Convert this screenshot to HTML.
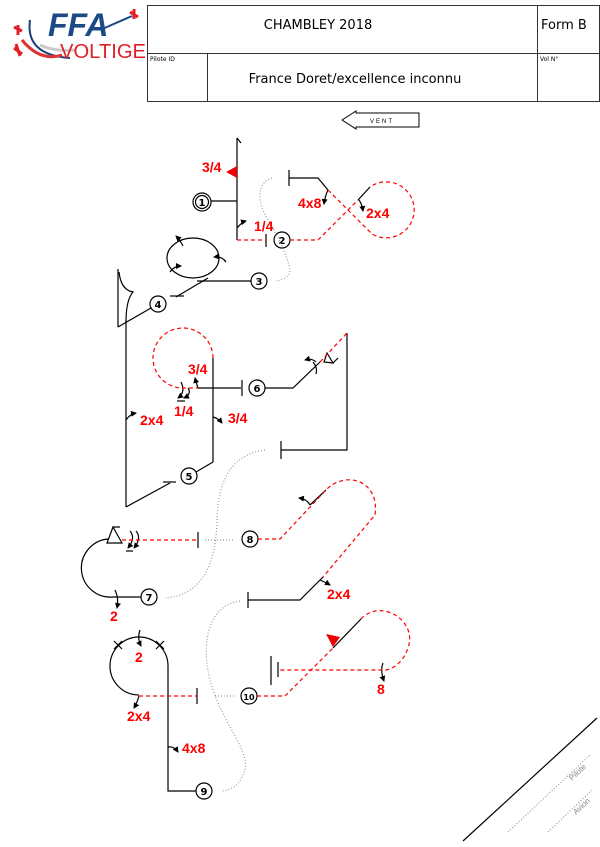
<!DOCTYPE html>
<html><head><meta charset="utf-8"><style>
html,body{margin:0;padding:0;background:#fff;}
svg{display:block;}
.r{fill:#f00;font:bold 14px "Liberation Sans",sans-serif;}
</style></head><body>
<svg width="600" height="847" viewBox="0 0 600 847" xmlns="http://www.w3.org/2000/svg" font-family="Liberation Sans, sans-serif">
<defs>
<marker id="ah" markerWidth="6" markerHeight="6" refX="5" refY="3" orient="auto" markerUnits="userSpaceOnUse"><path d="M0,0 L6,3 L0,6 z" fill="#000"/></marker>
</defs>
<!-- logo -->
<path d="M30,20 Q25,55 70,58" stroke="#1c3f7a" stroke-width="2" fill="none"/>
<path d="M22,40 Q40,62 62,55" stroke="#d33" stroke-width="3" fill="none"/>
<path d="M40,45 Q55,52 75,50" stroke="#ccc" stroke-width="3" fill="none"/>
<text x="48" y="36" font-size="32" font-weight="bold" font-style="italic" fill="#1c4a86">FFA</text>
<path d="M100,30 L132,16" stroke="#1c4a86" stroke-width="2"/>
<text x="60" y="58" font-size="20" fill="#e21f26" textLength="86" lengthAdjust="spacingAndGlyphs">VOLTIGE</text>
<path d="M130,12 l8,5 m-4,-8 l0,10" stroke="#e21f26" stroke-width="3"/>
<path d="M14,48 l8,6 m-6,-10 l4,12" stroke="#e21f26" stroke-width="3"/>
<path d="M14,27 l8,4 m-4,-6 l0,10" stroke="#e21f26" stroke-width="3"/>
<!-- header -->
<g stroke="#333" stroke-width="1" fill="none">
<rect x="147.5" y="5.5" width="452" height="96"/>
<line x1="147" y1="53.5" x2="600" y2="53.5"/>
<line x1="537.5" y1="5" x2="537.5" y2="101"/>
<line x1="207.5" y1="53" x2="207.5" y2="101"/>
</g>
<g font-family="DejaVu Sans, sans-serif">
<text x="318" y="29" font-size="13" text-anchor="middle">CHAMBLEY 2018</text>
<text x="541" y="29" font-size="13">Form B</text>
<text x="150" y="61" font-size="6">Pilote ID</text>
<text x="540" y="61" font-size="6">Vol N°</text>
<text x="355" y="83" font-size="13" text-anchor="middle">France Doret/excellence inconnu</text>
</g>
<!-- vent -->
<path d="M342,120 L356,111 L356,113 L419,113 L419,127 L356,127 L356,129 Z" fill="none" stroke="#000"/>
<text x="382" y="123" font-size="6" text-anchor="middle" letter-spacing="2">VENT</text>

<g fill="none" stroke="#000" stroke-width="1.2">
<!-- fig1 -->
<circle cx="202" cy="202" r="9"/><circle cx="202" cy="202" r="6.5"/>
<line x1="211" y1="201" x2="237" y2="201"/>
<line x1="237" y1="138" x2="237" y2="240"/>
<line x1="237" y1="138" x2="241" y2="143"/>
<path d="M237,228 Q242,222 246,221" marker-end="url(#ah)"/>
<line x1="266" y1="234" x2="266" y2="247"/>
<circle cx="282" cy="240" r="8"/>
<!-- fig2 -->
<path d="M289,170 V186 M289,178 H318 L328,190"/>
<path d="M370,187 L358,200"/>
<path d="M328,190 Q325,196 324,204" marker-end="url(#ah)"/>
<path d="M359,200 Q362,204 363,211" marker-end="url(#ah)"/>
<!-- fig3 -->
<circle cx="259" cy="281" r="8"/>
<line x1="197" y1="281" x2="251" y2="281"/>
<ellipse cx="193" cy="258" rx="26" ry="20"/>
<line x1="208" y1="278" x2="176" y2="297"/>
<line x1="170" y1="296" x2="184" y2="296"/>
<path d="M183,246 Q180,240 176,236" marker-end="url(#ah)"/>
<path d="M170,272 Q174,266 181,266" marker-end="url(#ah)"/>
<path d="M226,262 Q222,256 214,257" marker-end="url(#ah)"/>
<!-- fig4 -->
<circle cx="158" cy="304" r="8"/>
<line x1="151" y1="308" x2="118" y2="327"/>
<line x1="118" y1="269" x2="118" y2="327"/>
<path d="M119,272 Q121,290 133,292 Q126,300 126,322"/>
<!-- fig5 -->
<line x1="126" y1="320" x2="126" y2="507"/>
<line x1="126" y1="507" x2="170" y2="483"/>
<line x1="163" y1="482" x2="176" y2="482"/>
<circle cx="189" cy="476" r="8"/>
<line x1="196" y1="472" x2="213" y2="462"/>
<line x1="213" y1="462" x2="213" y2="358"/>
<path d="M126,420 Q130,414 136,413" marker-end="url(#ah)"/>
<path d="M213,417 Q218,418 222,423" marker-end="url(#ah)"/>
<line x1="198" y1="388" x2="241" y2="388"/>
<line x1="242" y1="380" x2="242" y2="396"/>
<path d="M198,388 Q196,382 195,378" marker-end="url(#ah)"/>
<path d="M181,382 Q186,392 178,398" marker-end="url(#ah)"/>
<path d="M188,388 Q192,394 184,398" marker-end="url(#ah)"/>
<line x1="177" y1="401" x2="185" y2="401"/>
<!-- fig6 -->
<circle cx="257" cy="388" r="8"/>
<path d="M265,388 H293 L320,362"/>
<path d="M327,353 L333,363 L324,362 Z M333,363 L338,358"/>
<path d="M313,362 Q318,368 316,374"/>
<path d="M316,362 Q312,358 305,360" marker-end="url(#ah)"/>
<path d="M347,333 V450 H281 M281,441 V459"/>
<!-- fig7 -->
<circle cx="149" cy="597" r="8"/>
<path d="M141,597 H113 A29,29 0 0 1 108,539"/>
<path d="M113,527 L107,543 L122,543 Z M113,527 H120"/>
<path d="M115,590 Q119,598 117,608" marker-end="url(#ah)"/>
<path d="M130,531 Q136,538 128,548" marker-end="url(#ah)"/>
<path d="M136,531 Q142,538 134,548" marker-end="url(#ah)"/>
<line x1="126" y1="551" x2="133" y2="551"/>
<line x1="198" y1="532" x2="198" y2="548"/>
<!-- fig8 -->
<circle cx="250" cy="539" r="8"/>
<line x1="310" y1="505" x2="326" y2="490"/>
<path d="M310,505 Q307,499 299,498" marker-end="url(#ah)"/>
<path d="M323,577 L300,600 H248 M248,592 V608"/>
<path d="M320,580 Q325,582 330,585" marker-end="url(#ah)"/>
<!-- fig9 -->
<circle cx="204" cy="791" r="8"/>
<path d="M196,791 H168 V666 A29,29 0 0 0 110,666 A29,29 0 0 0 139,695"/>
<path d="M114,641 l8,8 M122,641 l-8,8 M156,641 l8,8 M164,641 l-8,8"/>
<path d="M140,630 Q137,638 141,646" marker-end="url(#ah)"/>
<path d="M139,696 Q137,703 134,708" marker-end="url(#ah)"/>
<path d="M168,747 Q174,746 178,752" marker-end="url(#ah)"/>
<line x1="197" y1="688" x2="197" y2="704"/>
<!-- fig10 -->
<circle cx="249" cy="696" r="8"/>
<line x1="333" y1="648" x2="361" y2="619"/>
<path d="M383,663 Q380,670 384,681" marker-end="url(#ah)"/>
<line x1="278" y1="662" x2="278" y2="677"/>
<line x1="271" y1="656" x2="271" y2="685"/>
<!-- bottom right -->
<line x1="463" y1="841" x2="597" y2="718"/>
</g>
<!-- red filled triangles -->
<path d="M226,172 L237,166 L237,178 Z" fill="#e00"/>
<path d="M326,634 L340,637 L333,647 Z" fill="#e00"/>
<!-- circle numbers -->
<g font-size="10" font-weight="bold" text-anchor="middle" font-family="DejaVu Sans, sans-serif">
<text x="202" y="206">1</text><text x="282" y="244">2</text><text x="259" y="285">3</text>
<text x="158" y="308">4</text><text x="189" y="480">5</text><text x="257" y="392">6</text>
<text x="149" y="601">7</text><text x="250" y="543">8</text><text x="204" y="795">9</text>
<text x="249" y="700" font-size="8">10</text>
</g>
<!-- red dashed -->
<g fill="none" stroke="#f00" stroke-width="1.2" stroke-dasharray="4,3">
<path d="M237,240 H266 M290,240 H318 L358,200"/>
<path d="M328,190 L372,234 A28,28 0 1 0 370,187"/>
<path d="M213,358 A30,30 0 1 0 183,388 H198"/>
<path d="M320,362 L347,333"/>
<path d="M122,540 H198"/>
<path d="M258,539 H280 L326,490 C345,470 380,480 375,515 L323,577"/>
<path d="M139,696 H197"/>
<path d="M257,696 H285 L333,648"/>
<path d="M361,619 C380,598 418,620 408,648 C402,665 390,670 385,670 H278"/>
</g>
<!-- gray dotted -->
<g fill="none" stroke="#999" stroke-width="1.2" stroke-dasharray="1,2">
<path d="M272,178 C255,183 258,205 268,220 C280,240 288,258 290,270 C290,277 283,280 276,281"/>
<path d="M265,450 C228,455 218,485 217,520 C216,560 205,595 165,598"/>
<path d="M205,540 H234"/>
<path d="M240,601 C210,605 200,640 210,680 C220,720 250,750 245,770 C240,785 232,790 222,791"/>
<path d="M215,696 H234"/>
<path d="M508,832 L590,755 M548,832 L592,790"/>
</g>
<text transform="translate(572,781) rotate(-43)" font-size="8" fill="#888">Pilote</text>
<text transform="translate(576,815) rotate(-43)" font-size="8" fill="#888">Avion</text>
<!-- red labels -->
<text class="r" x="202" y="172">3/4</text>
<text class="r" x="254" y="231">1/4</text>
<text class="r" x="298" y="208">4x8</text>
<text class="r" x="366" y="218">2x4</text>
<text class="r" x="188" y="374">3/4</text>
<text class="r" x="174" y="416">1/4</text>
<text class="r" x="140" y="425">2x4</text>
<text class="r" x="228" y="423">3/4</text>
<text class="r" x="110" y="621">2</text>
<text class="r" x="327" y="599">2x4</text>
<text class="r" x="135" y="662">2</text>
<text class="r" x="127" y="721">2x4</text>
<text class="r" x="182" y="753">4x8</text>
<text class="r" x="377" y="694">8</text>
</svg>
</body></html>
